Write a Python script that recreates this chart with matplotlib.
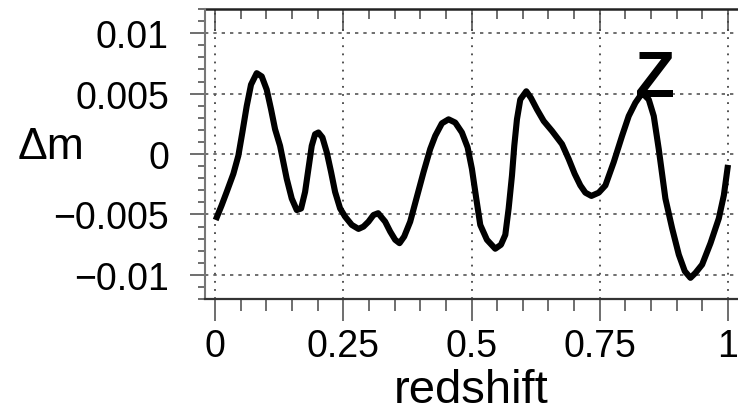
import numpy as np
import matplotlib
matplotlib.use("Agg")
import matplotlib.pyplot as plt
from matplotlib.ticker import FixedLocator, FixedFormatter, MultipleLocator

plt.rcParams["font.family"] = ["Liberation Sans", "DejaVu Sans"]

# 読み取った曲線の点 (redshift, Δm)
z = [0.0013, 0.0130, 0.0228, 0.0358, 0.0455, 0.0533, 0.0618, 0.0702, 0.0813,
     0.0911, 0.1008, 0.1093, 0.1171, 0.1268, 0.1398, 0.1496, 0.1594, 0.1678,
     0.1756, 0.1821, 0.1886, 0.1951, 0.2016, 0.2094, 0.2179, 0.2263, 0.2341,
     0.2439, 0.2537, 0.2667, 0.2797, 0.2894, 0.2992, 0.3089, 0.3180, 0.3317,
     0.3415, 0.3512, 0.3597, 0.3688, 0.3805, 0.3935, 0.4065, 0.4195, 0.4293,
     0.4423, 0.4553, 0.4683, 0.4813, 0.4924, 0.5008, 0.5093, 0.5171, 0.5301,
     0.5463, 0.5574, 0.5659, 0.5724, 0.5789, 0.5834, 0.5886, 0.5951, 0.6068,
     0.6159, 0.6276, 0.6407, 0.6569, 0.6764, 0.6894, 0.7011, 0.7122, 0.7220,
     0.7337, 0.7480, 0.7610, 0.7772, 0.7935, 0.8065, 0.8195, 0.8293, 0.8358,
     0.8455, 0.8553, 0.8650, 0.8780, 0.8911, 0.9041, 0.9158, 0.9268, 0.9366,
     0.9496, 0.9659, 0.9821, 0.9919, 1.0]
dm = [-0.00546, -0.00424, -0.00314, -0.00164, -0.00014, 0.00178, 0.00396,
      0.00574, 0.00669, 0.00642, 0.00533, 0.00369, 0.00205, 0.00068, -0.00205,
      -0.00369, -0.00464, -0.00451, -0.00314, -0.00123, 0.00068, 0.00164,
      0.00178, 0.00137, 0.00014, -0.00150, -0.00314, -0.00451, -0.00519,
      -0.00587, -0.00620, -0.00601, -0.00560, -0.00505, -0.00490, -0.00560,
      -0.00642, -0.00710, -0.00738, -0.00683, -0.00560, -0.00355, -0.00150,
      0.00041, 0.00150, 0.00254, 0.00287, 0.00260, 0.00178, 0.00055, -0.00123,
      -0.00369, -0.00587, -0.00710, -0.00784, -0.00751, -0.00669, -0.00451,
      -0.00178, 0.00068, 0.00287, 0.00451, 0.00519, 0.00464, 0.00369, 0.00273,
      0.00191, 0.00082, -0.00041, -0.00164, -0.00260, -0.00320, -0.00347,
      -0.00320, -0.00260, -0.00068, 0.00150, 0.00314, 0.00424, 0.00484,
      0.00492, 0.00451, 0.00314, 0.00041, -0.00369, -0.00615, -0.00833,
      -0.00970, -0.01025, -0.00984, -0.00915, -0.00738, -0.00533, -0.00342,
      -0.00090]

xticks = [0, 0.25, 0.5, 0.75, 1]
xticklabels = ["0", "0.25", "0.5", "0.75", "1"]
yticks = [-0.01, -0.005, 0, 0.005, 0.01]
yticklabels = ["\u22120.01", "\u22120.005", "0", "0.005", "0.01"]

fig = plt.figure(figsize=(7.38, 4.14), dpi=100)
ax = fig.add_axes([205 / 738, 1 - 300 / 414, 533 / 738, 290 / 414])

ax.plot(z, dm, color="black", lw=4.4, solid_joinstyle="round",
        solid_capstyle="butt", zorder=3)

ax.set_xlim(-0.0195, 1.0195)
ax.set_ylim(-0.012, 0.012)

ax.xaxis.set_major_locator(FixedLocator(xticks))
ax.xaxis.set_major_formatter(FixedFormatter(xticklabels))
ax.xaxis.set_minor_locator(MultipleLocator(0.05))
ax.yaxis.set_major_locator(FixedLocator(yticks))
ax.yaxis.set_major_formatter(FixedFormatter(yticklabels))
ax.yaxis.set_minor_locator(MultipleLocator(0.001))

ax.tick_params(axis="x", which="major", direction="out", length=16, width=1.2,
               color="#555555", labelsize=27, pad=5, top=False)
ax.tick_params(axis="x", which="minor", direction="out", length=8.5, width=1.2,
               color="#555555", top=False)
ax.tick_params(axis="y", which="major", direction="out", length=11, width=1.2,
               color="#555555", labelsize=27, pad=15, right=False)
ax.tick_params(axis="y", which="minor", direction="out", length=5, width=1.2,
               color="#555555", right=False)

# 上側の目盛りは内向き
top = ax.secondary_xaxis("top")
top.xaxis.set_major_locator(FixedLocator(xticks))
top.xaxis.set_minor_locator(MultipleLocator(0.05))
top.tick_params(axis="x", which="major", direction="in", length=16, width=1.2,
                color="#555555", labeltop=False)
top.tick_params(axis="x", which="minor", direction="in", length=7, width=1.2,
                color="#555555")
top.spines["top"].set_linewidth(1.8)
top.spines["top"].set_color("#222222")

ax.xaxis.grid(True, which="major", linestyle=(0, (1, 3.5)), color="#444444", lw=1.3)
ax.yaxis.grid(True, which="major", linestyle=(0, (2, 3)), color="#555555", lw=1.2)

ax.spines["right"].set_visible(False)
ax.spines["top"].set_visible(False)
ax.spines["left"].set_color("#777777")
ax.spines["left"].set_linewidth(1.5)
ax.spines["bottom"].set_color("#333333")
ax.spines["bottom"].set_linewidth(1.6)

ax.set_xlabel("redshift", fontsize=34)
ax.xaxis.label.set_va("baseline")
ax.xaxis.set_label_coords(0.5, -0.355)

ax.set_ylabel("\u0394m", fontsize=32, rotation=0)
ax.yaxis.label.set_ha("left")
ax.yaxis.label.set_va("baseline")
ax.yaxis.set_label_coords(-0.351, 0.486)

ax.text(0.857, 0.00476, "Z", fontsize=47, fontweight="bold",
        ha="center", va="baseline", zorder=4)

fig.savefig("out.png", dpi=100)
